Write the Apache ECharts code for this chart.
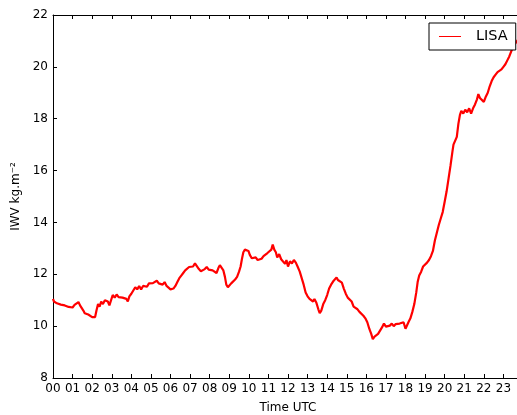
<!DOCTYPE html>
<html>
<head>
<meta charset="utf-8">
<script src="https://cdn.jsdelivr.net/npm/echarts@6/dist/echarts.min.js"></script>
<style>
  html, body { margin: 0; padding: 0; background: #fff; overflow: hidden; }
  #chart { width: 517px; height: 415px; }
</style>
</head>
<body>
<div id="chart"></div>
<script>
// Integrated water vapour over one day (hours UTC)
const hours = [
  0.00, 0.05, 0.12, 0.20, 0.30, 0.40, 0.50, 0.60, 0.70, 0.80, 0.90, 1.00, 1.10, 1.20, 1.30, 1.38, 1.45, 1.55, 1.62, 1.72,
  1.80, 1.90, 2.00, 2.08, 2.15, 2.22, 2.30, 2.38, 2.46, 2.55, 2.65, 2.72, 2.80, 2.88, 2.95, 3.05, 3.15, 3.25, 3.35, 3.45,
  3.55, 3.65, 3.75, 3.82, 3.90, 4.00, 4.10, 4.20, 4.30, 4.40, 4.50, 4.60, 4.70, 4.80, 4.90, 5.00, 5.10, 5.20, 5.30, 5.40,
  5.50, 5.60, 5.70, 5.80, 5.90, 6.00, 6.08, 6.15, 6.25, 6.35, 6.45, 6.55, 6.65, 6.75, 6.85, 6.95, 7.05, 7.15, 7.25, 7.35,
  7.45, 7.55, 7.65, 7.75, 7.85, 7.95, 8.05, 8.15, 8.25, 8.35, 8.45, 8.52, 8.60, 8.70, 8.78, 8.85, 8.93, 9.00, 9.10, 9.20,
  9.30, 9.40, 9.50, 9.58, 9.65, 9.72, 9.80, 9.90, 9.98, 10.05, 10.15, 10.25, 10.35, 10.45, 10.55, 10.65, 10.75, 10.85, 10.95, 11.05,
  11.15, 11.22, 11.30, 11.38, 11.45, 11.55, 11.65, 11.75, 11.85, 11.92, 12.00, 12.10, 12.20, 12.30, 12.40, 12.50, 12.60, 12.70, 12.80, 12.90,
  13.00, 13.10, 13.20, 13.28, 13.35, 13.45, 13.55, 13.62, 13.70, 13.80, 13.90, 14.00, 14.10, 14.20, 14.30, 14.40, 14.48, 14.55, 14.65, 14.75,
  14.85, 14.95, 15.05, 15.15, 15.25, 15.35, 15.45, 15.55, 15.65, 15.75, 15.85, 15.95, 16.05, 16.15, 16.25, 16.33, 16.42, 16.50, 16.60, 16.70,
  16.80, 16.90, 17.00, 17.10, 17.20, 17.30, 17.40, 17.50, 17.60, 17.70, 17.80, 17.90, 18.00, 18.08, 18.15, 18.25, 18.35, 18.45, 18.55, 18.62,
  18.70, 18.80, 18.90, 19.00, 19.10, 19.20, 19.30, 19.40, 19.50, 19.60, 19.70, 19.80, 19.90, 20.00, 20.10, 20.20, 20.30, 20.40, 20.45, 20.55,
  20.62, 20.70, 20.78, 20.85, 20.95, 21.05, 21.15, 21.25, 21.35, 21.45, 21.55, 21.65, 21.72, 21.80, 21.90, 22.00, 22.10, 22.20, 22.30, 22.40,
  22.50, 22.60, 22.70, 22.80, 22.90, 23.00, 23.10, 23.20, 23.30, 23.40, 23.50, 23.60, 23.70, 23.80
];
const iwv = [
  11.05, 10.95, 11.00, 10.88, 10.92, 10.83, 10.88, 10.80, 10.85, 10.74, 10.80, 10.72, 10.82, 10.80, 10.93, 10.80, 10.85, 10.60, 10.50, 10.55,
  10.45, 10.50, 10.35, 10.28, 10.35, 10.60, 10.85, 10.75, 10.95, 10.85, 11.00, 11.05, 10.95, 10.80, 10.85, 11.20, 11.10, 11.22, 11.12, 11.18,
  11.10, 11.15, 11.05, 10.95, 11.15, 11.25, 11.30, 11.50, 11.42, 11.55, 11.42, 11.55, 11.58, 11.52, 11.65, 11.58, 11.66, 11.60, 11.75, 11.65,
  11.68, 11.60, 11.70, 11.55, 11.50, 11.42, 11.38, 11.45, 11.55, 11.70, 11.85, 11.95, 12.05, 12.15, 12.20, 12.28, 12.32, 12.30, 12.42, 12.35,
  12.20, 12.12, 12.08, 12.20, 12.28, 12.18, 12.22, 12.15, 12.12, 12.05, 12.25, 12.35, 12.30, 12.15, 11.90, 11.60, 11.50, 11.55, 11.65, 11.62,
  11.80, 11.90, 12.10, 12.30, 12.60, 12.85, 12.95, 13.00, 12.90, 12.75, 12.62, 12.58, 12.65, 12.55, 12.62, 12.60, 12.70, 12.68, 12.82, 12.75,
  12.95, 13.15, 12.95, 12.85, 12.65, 12.78, 12.58, 12.62, 12.40, 12.55, 12.30, 12.50, 12.42, 12.55, 12.45, 12.28, 12.10, 11.85, 11.60, 11.30,
  11.15, 11.05, 11.10, 10.95, 11.05, 10.90, 10.65, 10.50, 10.60, 10.85, 11.00, 11.20, 11.45, 11.60, 11.72, 11.70, 11.88, 11.78, 11.80, 11.68,
  11.45, 11.25, 11.10, 11.15, 10.95, 10.75, 10.82, 10.65, 10.55, 10.48, 10.40, 10.30, 10.15, 9.90, 9.70, 9.50, 9.60, 9.55, 9.70, 9.75,
  9.95, 10.10, 9.98, 10.05, 10.02, 10.10, 10.00, 10.08, 10.02, 10.10, 10.05, 10.15, 9.90, 9.95, 10.15, 10.30, 10.55, 10.85, 11.30, 11.70,
  11.95, 12.10, 12.30, 12.35, 12.45, 12.55, 12.70, 12.90, 13.30, 13.60, 13.90, 14.15, 14.40, 14.80, 15.20, 15.70, 16.20, 16.75, 17.00, 16.95,
  17.30, 17.80, 18.15, 18.30, 18.20, 18.35, 18.25, 18.40, 18.20, 18.40, 18.55, 18.75, 18.95, 18.80, 18.75, 18.65, 18.85, 19.00, 19.25, 19.45,
  19.60, 19.70, 19.80, 19.75, 19.90, 20.00, 20.10, 20.25, 20.40, 20.60, 20.80, 20.85, 21.00, 21.10
];
const seriesName = 'LISA';
const xTitle = 'Time UTC';
const yTitle = 'IWV kg.m⁻²';

const FONT = 'DejaVu Sans';
const pts = hours.map((h, i) => [h, iwv[i]]);
const pad2 = v => (v < 10 ? '0' : '') + v;

const chart = echarts.init(document.getElementById('chart'), null, { renderer: 'canvas' });
chart.setOption({
  animation: false,
  backgroundColor: '#fff',
  // plot frame runs slightly past the right edge of the canvas
  grid: { left: 53, width: 470, top: 15, bottom: 37, containLabel: false, outerBoundsMode: 'none' },
  legend: {
    left: 429, top: 23,
    padding: [5, 8, 5, 10],
    backgroundColor: '#fff',
    borderColor: '#000', borderWidth: 1, borderRadius: 0,
    itemWidth: 22, itemHeight: 14,
    lineStyle: { width: 1 },
    textStyle: { fontFamily: FONT, fontSize: 14.5, color: '#000', padding: [0, 0, 0, 10], lineHeight: 17 },
    data: [{ name: seriesName, icon: 'path://M0,0L22,0L22,1L0,1Z' }]
  },
  xAxis: [{
    type: 'value', min: 0, max: 24, interval: 1,
    name: xTitle, nameLocation: 'middle', nameGap: 24,
    nameTextStyle: { fontFamily: FONT, fontSize: 12, color: '#000' },
    axisLine: { show: true, lineStyle: { color: '#000', width: 1 } },
    axisTick: { show: true, inside: true, length: 4, lineStyle: { color: '#000' } },
    axisLabel: { fontFamily: FONT, fontSize: 12, color: '#000', margin: 5,
      formatter: v => (v >= 24 ? '' : pad2(v)) },
    splitLine: { show: false }
  }, {
    type: 'value', position: 'top', min: 0, max: 24, interval: 1,
    axisLine: { show: true, lineStyle: { color: '#000', width: 1 } },
    axisTick: { show: true, inside: true, length: 4, lineStyle: { color: '#000' } },
    axisLabel: { show: false },
    splitLine: { show: false }
  }],
  yAxis: {
    type: 'value', min: 8, max: 22, interval: 2,
    name: yTitle, nameLocation: 'middle', nameGap: 22, nameRotate: 90,
    nameTextStyle: { fontFamily: FONT, fontSize: 12, color: '#000' },
    axisLine: { show: true, lineStyle: { color: '#000', width: 1 } },
    axisTick: { show: true, inside: true, length: 4, lineStyle: { color: '#000' } },
    axisLabel: { fontFamily: FONT, fontSize: 12, color: '#000', margin: 5 },
    splitLine: { show: false }
  },
  series: [{
    name: seriesName,
    type: 'line',
    data: pts,
    showSymbol: false,
    symbol: 'none',
    clip: true,
    lineStyle: { color: '#ff0000', width: 2.2 },
    itemStyle: { color: '#ff0000' }
  }]
});
</script>
</body>
</html>
